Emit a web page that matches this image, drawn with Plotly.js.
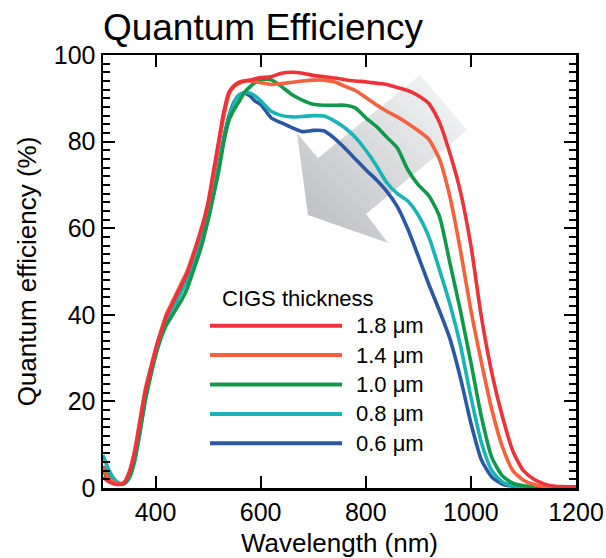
<!DOCTYPE html>
<html>
<head>
<meta charset="utf-8">
<script src="https://cdn.plot.ly/plotly-3.0.1.min.js"></script>
<style>html,body{margin:0;padding:0;background:#fff;}#chart{width:606px;height:558px;}</style>
</head>
<body>
<div id="chart"></div>
<script>
// Wavelength grid (nm)
var wavelength = [300,310,320,330,340,350,360,370,380,390,400,410,420,430,440,450,460,470,480,490,500,510,520,530,540,550,560,570,580,590,600,620,640,660,680,700,720,740,760,780,800,820,840,860,880,900,920,940,960,980,1000,1020,1040,1060,1080,1100,1120,1140,1160,1180,1200];

// Quantum efficiency (%) per CIGS thickness
var qe_1_8 = [2.5,1.5,1.0,0.8,1.2,3.5,8,15,22,27,32,36,39.5,42,44.5,47,49.5,53,57,61,66,73,80,87,91.5,93,93.8,94,94.2,94.5,94.8,95,95.8,96,95.8,95.3,95,94.7,94.3,94,93.8,93.5,93.2,92.5,91.8,90.6,88.8,84.5,77.3,68.5,56,39.5,26.5,16.5,8.5,4,2,0.9,0.4,0.3,0.2];
var qe_1_4 = [4.8,2.5,1.3,0.9,1.3,3.8,8.5,15.5,22.5,27.5,32,36,40,42.5,45,47.5,50,53.5,57,61,65.5,72,79,86,91,92.8,93.5,94,94,93.8,93.6,93.2,93.4,93.7,94,94.2,94.2,93.8,92.8,91.8,90.2,88.5,87,85.7,84.2,82.5,80.5,76,67.3,55,41,29,18,9.5,4,1.8,0.8,0.4,0.3,0.2,0.2];
var qe_1_0 = [4,2.2,1.2,0.9,1.0,2.5,6.5,13,20,25.5,30.5,34.5,37.5,39.5,41.5,43.5,46,49.5,53,57,62,67.5,73,80,85,87.5,89.5,91.5,92.7,93.7,94.3,94.3,92.7,90.8,89.5,88.6,88.4,88.4,88.4,87.8,85.5,83.5,81,78.5,73.5,70,67.5,62.8,52,41,29,16.5,7,2.8,1.1,0.5,0.3,0.2,0.2,0.2,0.2];
var qe_0_8 = [7.6,4.5,2.3,1.2,1.0,2.3,6,12.5,20,26,31,35,38.5,41,43,45.5,48,51,54.5,58,62,67.5,74,80.5,85.5,89,90.8,91.3,91.2,90.5,89.4,87,86,85.7,85.8,86,85.9,84.8,83.2,81,78,74.5,70.5,68,66.3,63,58,50.5,42.5,33,21,10.5,4,1.4,0.5,0.3,0.2,0.2,0.2,0.2,0.2];
var qe_0_6 = [5,3,1.8,1.1,1.0,2.5,6.5,13,20.5,26.5,31.5,35.5,39,41.5,44,46.5,49,52,55,58.5,62.5,68,74.5,81,86,89.3,90.8,91.2,90.5,89.3,88.6,85.5,84.3,83.2,82.3,82.6,82.5,80.8,78.5,76,73.5,71.2,68.5,65,59.8,53.5,47,41,34.5,25.5,15,6.5,2.5,0.9,0.4,0.2,0.2,0.2,0.2,0.2,0.2];

var seriesNames = ["1.8 \u03bcm","1.4 \u03bcm","1.0 \u03bcm","0.8 \u03bcm","0.6 \u03bcm"];
var seriesValues = [qe_1_8, qe_1_4, qe_1_0, qe_0_8, qe_0_6];
var seriesColors = ["#ee3239","#f4623c","#12984b","#19b4b5","#2a58a6"];
var legendTitle = "CIGS thickness";
var xTickVals = [400,600,800,1000,1200];
var yTickVals = [0,20,40,60,80,100];

var traces = [];
for (var i = seriesNames.length - 1; i >= 0; i--) {
  traces.push({
    x: wavelength, y: seriesValues[i], name: seriesNames[i],
    type: 'scatter', mode: 'lines',
    line: {color: seriesColors[i], width: 3.6, shape: 'spline', smoothing: 0.6},
    showlegend: false, hoverinfo: 'x+y+name'
  });
}

// Plot-area geometry (px)
var L = 103, R = 30, T = 55, B = 70, W = 606, H = 558;
var pw = W - L - R, ph = H - T - B;
function px2paperX(p){ return (p - L) / pw; }
function px2paperY(p){ return (H - B - p) / ph; }

// Custom legend
var shapes = [], annotations = [];
annotations.push({xref:'paper', yref:'paper', x: px2paperX(220), y: px2paperY(298), xanchor:'left', yanchor:'middle',
  text: legendTitle, showarrow:false, font:{family:'Liberation Sans, Arial, sans-serif', size:22, color:'#000'}});
for (var k = 0; k < seriesNames.length; k++) {
  var yy = px2paperY(325.7 + k * 29.4);
  shapes.push({type:'line', xref:'paper', yref:'paper', x0: px2paperX(210), x1: px2paperX(342), y0: yy, y1: yy,
    line:{color: seriesColors[k], width: 4}});
  annotations.push({xref:'paper', yref:'paper', x: px2paperX(354), y: yy, xanchor:'left', yanchor:'middle',
    text: seriesNames[k], showarrow:false, font:{family:'Liberation Sans, Arial, sans-serif', size:22, color:'#000'}});
}

// Gray gradient arrow (decoration) drawn in plot-area pixel space
var arrowSvg = '<svg xmlns="http://www.w3.org/2000/svg" width="' + pw + '" height="' + ph + '" viewBox="0 0 ' + pw + ' ' + ph + '" preserveAspectRatio="none">' +
  '<defs><linearGradient id="g" x1="1" y1="0" x2="0" y2="1"><stop offset="0" stop-color="#f8f9fa"/><stop offset="1" stop-color="#b8babd"/></linearGradient></defs>' +
  '<polygon fill="url(#g)" points="317,20 364,75 263,159 285,188 205,160 194,78 215,103"/></svg>';
var images = [{source: 'data:image/svg+xml;charset=utf-8,' + encodeURIComponent(arrowSvg),
  xref:'paper', yref:'paper', x:0, y:1, sizex:1, sizey:1, xanchor:'left', yanchor:'top', sizing:'stretch', layer:'below'}];

var fontFam = 'Liberation Sans, Arial, Helvetica, sans-serif';
var layout = {
  width: W, height: H,
  margin: {l: L, r: R, t: T, b: B, pad: 0},
  paper_bgcolor: '#fff', plot_bgcolor: 'rgba(0,0,0,0)',
  font: {family: fontFam, color: '#000'},
  title: {text: 'Quantum Efficiency', font: {family: fontFam, size: 37, color: '#000'},
    xref: 'paper', x: px2paperX(263), xanchor: 'center', yref: 'container', y: 1 - 27 / H, yanchor: 'middle'},
  xaxis: {
    range: [300, 1200], tickmode: 'array', tickvals: xTickVals, ticktext: xTickVals.map(String),
    ticks: 'inside', ticklen: 12, tickwidth: 2, tickcolor: '#000',
    showline: true, linewidth: 2.5, linecolor: '#000', mirror: 'ticks',
    showgrid: false, zeroline: false, fixedrange: true,
    tickfont: {family: fontFam, size: 25, color: '#000'},
    title: {text: 'Wavelength (nm)', font: {family: fontFam, size: 26, color: '#000'}, standoff: 12}
  },
  yaxis: {
    range: [0, 100], tickmode: 'array', tickvals: yTickVals, ticktext: yTickVals.map(String),
    ticks: 'inside', ticklen: 12, tickwidth: 2, tickcolor: '#000',
    minor: {dtick: 2, tick0: 0, ticks: 'inside', ticklen: 7, tickwidth: 2, tickcolor: '#000', showgrid: false},
    showline: true, linewidth: 2.5, linecolor: '#000', mirror: 'ticks',
    showgrid: false, zeroline: false, fixedrange: true,
    tickfont: {family: fontFam, size: 25, color: '#000'},
    title: {text: 'Quantum efficiency (%)', font: {family: fontFam, size: 26, color: '#000'}, standoff: 10}
  },
  yaxis2: {
    overlaying: 'y', anchor: 'x', side: 'left', range: [0, 100], dtick: 10, tick0: 0,
    ticks: 'inside', ticklen: 10, tickwidth: 2, tickcolor: '#000', mirror: 'ticks',
    showticklabels: false, showline: false, showgrid: false, zeroline: false, fixedrange: true
  },
  shapes: shapes, annotations: annotations, images: images,
  showlegend: false
};

Plotly.newPlot('chart', traces, layout, {displayModeBar: false, staticPlot: true});
</script>
</body>
</html>
